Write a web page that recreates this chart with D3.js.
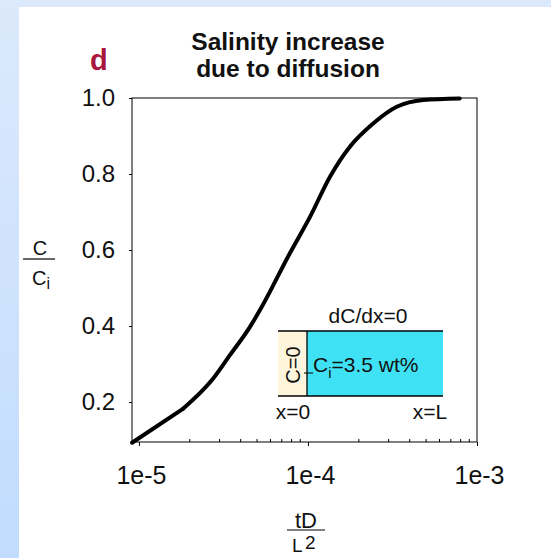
<!DOCTYPE html>
<html>
<head>
<meta charset="utf-8">
<script src="https://cdn.jsdelivr.net/npm/d3@7"></script>
<style>
  html, body { margin: 0; padding: 0; }
  body { width: 551px; height: 558px; overflow: hidden; }
  svg text { font-family: "Liberation Sans", Arial, Helvetica, sans-serif; fill: #111; }
</style>
</head>
<body>
<svg id="chart"></svg>
<script>
const W = 551, H = 558;
const margin = { top: 98, right: 74, bottom: 116, left: 132 };

// tD/L^2 (log axis) and C/Ci
const tdL2 = [9.1e-6, 1.83e-5, 2.75e-5, 3.46e-5, 4.54e-5, 5.2e-5, 7.8e-5, 1.03e-4, 1.35e-4, 1.77e-4, 2.43e-4, 3.35e-4, 4.8e-4, 7.9e-4];
const cRatio = [0.093, 0.183, 0.262, 0.324, 0.398, 0.442, 0.591, 0.688, 0.793, 0.872, 0.933, 0.977, 0.995, 0.999];

const xTicks = [1e-5, 1e-4, 1e-3];
const xTickLabels = ["1e-5", "1e-4", "1e-3"];
const yTicks = [0.2, 0.4, 0.6, 0.8, 1.0];
const titleLines = ["Salinity increase", "due to diffusion"];

const svg = d3.select("#chart").attr("width", W).attr("height", H);

// page background: blue strips with a white sheet
const grad = svg.append("defs").append("linearGradient")
  .attr("id", "bg").attr("x1", 0).attr("y1", 0).attr("x2", 0).attr("y2", 1);
grad.append("stop").attr("offset", "0%").attr("stop-color", "#dce9fc");
grad.append("stop").attr("offset", "100%").attr("stop-color", "#c1dcfe");
svg.append("rect").attr("width", W).attr("height", H).attr("fill", "url(#bg)");
svg.append("rect").attr("x", 19).attr("y", 7).attr("width", W - 19).attr("height", H - 7).attr("fill", "#fff");

const x = d3.scaleLog()
  .domain([9.1e-6, 1e-3])
  .range([margin.left, W - margin.right]);
const y = d3.scaleLinear()
  .domain([0.095, 1.0])
  .range([H - margin.bottom, margin.top]);

// y axis
const yAxis = svg.append("g")
  .attr("transform", `translate(${margin.left},0)`)
  .call(d3.axisLeft(y).tickValues(yTicks).tickFormat(d3.format(".1f")).tickSize(3).tickPadding(14));
yAxis.select(".domain").remove();
yAxis.selectAll("text").style("font-size", "24px");

// x axis: major ticks outward, minor ticks inward
const minor = [];
[1e-5, 1e-4].forEach(d => { for (let k = 2; k <= 9; k++) minor.push(d * k); });
const xAxis = svg.append("g")
  .attr("transform", `translate(0,${H - margin.bottom})`)
  .call(d3.axisBottom(x).tickValues(xTicks).tickFormat((d, i) => xTickLabels[i]).tickSize(4).tickPadding(20));
xAxis.select(".domain").remove();
xAxis.selectAll("text").style("font-size", "25px").attr("dx", 2);
svg.append("g")
  .selectAll("line")
  .data(minor)
  .join("line")
  .attr("x1", d => x(d)).attr("x2", d => x(d))
  .attr("y1", H - margin.bottom).attr("y2", H - margin.bottom - 3)
  .attr("stroke", "#000");

// frame
svg.append("rect")
  .attr("x", margin.left).attr("y", margin.top)
  .attr("width", W - margin.left - margin.right)
  .attr("height", H - margin.top - margin.bottom)
  .attr("fill", "none").attr("stroke", "#000").attr("stroke-width", 1);

// curve: straight first segment (kink at 2e-5), smooth after it
const pts = tdL2.map((t, i) => [t, cRatio[i]]);
const line = d3.line()
  .x(d => x(d[0]))
  .y(d => y(d[1]));
svg.selectAll("path.curve")
  .data([
    { pts: pts.slice(0, 2), curve: d3.curveLinear },
    { pts: pts.slice(1), curve: d3.curveMonotoneX }
  ])
  .join("path")
  .attr("class", "curve")
  .attr("d", d => line.curve(d.curve)(d.pts))
  .attr("fill", "none")
  .attr("stroke", "#000")
  .attr("stroke-width", 4)
  .attr("stroke-linecap", "round")
  .attr("stroke-linejoin", "round");

// title and panel letter
svg.append("text")
  .attr("x", 90).attr("y", 70)
  .style("font-size", "29px").style("font-weight", "bold").style("fill", "#a8173d")
  .text("d");
svg.selectAll("text.title")
  .data(titleLines)
  .join("text")
  .attr("class", "title")
  .attr("x", 288).attr("y", (d, i) => 50 + i * 27)
  .attr("text-anchor", "middle")
  .style("font-size", "24.5px").style("font-weight", "bold")
  .text(d => d);

// y label C / Ci
svg.append("text").attr("x", 40).attr("y", 255).attr("text-anchor", "middle")
  .style("font-size", "20px").text("C");
svg.append("line").attr("x1", 23).attr("x2", 55).attr("y1", 259).attr("y2", 259)
  .attr("stroke", "#000").attr("stroke-width", 1.2);
const ci = svg.append("text").attr("x", 32).attr("y", 285).style("font-size", "20px");
ci.append("tspan").text("C");
ci.append("tspan").attr("dy", 4).style("font-size", "16px").text("i");

// x label tD / L2
svg.append("text").attr("x", 306).attr("y", 528).attr("text-anchor", "middle")
  .style("font-size", "22px").text("tD");
svg.append("line").attr("x1", 287).attr("x2", 325).attr("y1", 530).attr("y2", 530)
  .attr("stroke", "#000").attr("stroke-width", 1.2);
svg.append("text").attr("x", 292).attr("y", 552).style("font-size", "19px").text("L");
svg.append("text").attr("x", 305).attr("y", 549).style("font-size", "19px").text("2");

// inset sketch of the diffusion domain
const inset = svg.append("g").attr("transform", "translate(278,331)");
inset.append("rect").attr("x", 0).attr("y", 0).attr("width", 29).attr("height", 65).attr("fill", "#fdf5dc");
inset.append("rect").attr("x", 29).attr("y", 0).attr("width", 136).attr("height", 65).attr("fill", "#3fe2f4");
inset.append("line").attr("x1", 0).attr("x2", 165).attr("y1", 0).attr("y2", 0).attr("stroke", "#000").attr("stroke-width", 1.3);
inset.append("line").attr("x1", 0).attr("x2", 165).attr("y1", 65).attr("y2", 65).attr("stroke", "#000").attr("stroke-width", 1.3);
inset.append("line").attr("x1", 29).attr("x2", 29).attr("y1", 0).attr("y2", 65).attr("stroke", "#000").attr("stroke-width", 1.3);
inset.append("line").attr("x1", 26).attr("x2", 35).attr("y1", 42).attr("y2", 42).attr("stroke", "#000").attr("stroke-width", 1);
inset.append("text").attr("x", 90).attr("y", -8).attr("text-anchor", "middle")
  .style("font-size", "21px").text("dC/dx=0");
inset.append("text").attr("transform", "translate(22,34) rotate(-90)").attr("text-anchor", "middle")
  .style("font-size", "20px").text("C=0");
const civ = inset.append("text").attr("x", 35).attr("y", 41).style("font-size", "21px");
civ.append("tspan").text("C");
civ.append("tspan").attr("dy", 6).style("font-size", "15px").text("i");
civ.append("tspan").attr("dy", -6).text("=3.5 wt%");
inset.append("text").attr("x", 15).attr("y", 88).attr("text-anchor", "middle")
  .style("font-size", "21px").text("x=0");
inset.append("text").attr("x", 152).attr("y", 88).attr("text-anchor", "middle")
  .style("font-size", "21px").text("x=L");
</script>
</body>
</html>
